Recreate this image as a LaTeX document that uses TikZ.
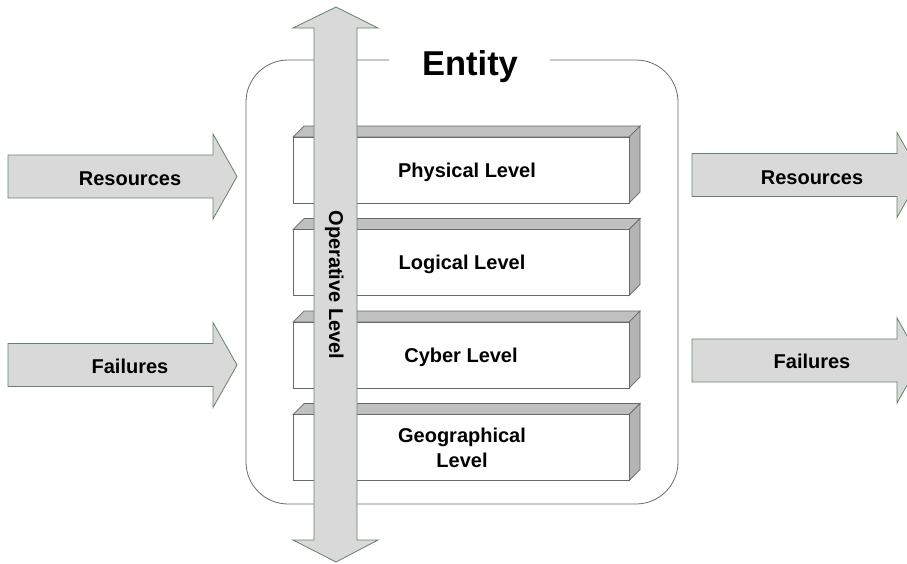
\documentclass[tikz,border=0pt]{standalone}
\usepackage{fontspec}
\setmainfont{Liberation Sans}
\definecolor{arrowfill}{RGB}{217,217,217}
\definecolor{arrowline}{RGB}{100,130,105}
\definecolor{topface}{RGB}{192,192,192}
\definecolor{sideface}{RGB}{180,180,180}
\definecolor{boxline}{RGB}{105,105,105}
\begin{document}
\begin{tikzpicture}[x=1pt,y=-1pt,
    blockarrow/.style={draw=arrowline,fill=arrowfill,line width=0.8pt},
    face/.style={draw=boxline,line width=0.7pt},
    lbl/.style={font=\fontsize{20}{25}\selectfont\bfseries,anchor=base,inner sep=0pt}]
  \useasboundingbox (0,0) rectangle (907,563);
  % entity frame
  \draw[boxline,line width=0.8pt,rounded corners=42]
    (389,60) -- (246,60) -- (246,504) -- (678,504) -- (678,60) -- (550,60);
  \node[lbl,font=\fontsize{34.5}{40}\selectfont\bfseries] (entity) at (470,75) {Entity};
  % levels
  \foreach \t in {137,229.5,322,414.5} {
    \draw[face,fill=topface] (293,\t) -- (304,\t-11) -- (640,\t-11) -- (629,\t) -- cycle;
    \draw[face,fill=sideface] (629,\t) -- (640,\t-11) -- (640,\t+55) -- (629,\t+66) -- cycle;
    \draw[face,fill=white] (293,\t) rectangle (629,\t+66);
  }
  \node[lbl] (physical) at (467,177) {Physical Level};
  \node[lbl] (logical) at (462,269) {Logical Level};
  \node[lbl] (cyber) at (461,362) {Cyber Level};
  \node[lbl,anchor=center,align=center] (geo) at (462,448) {Geographical\\Level};
  % operative level
  \draw[blockarrow] (336,7) -- (378,28) -- (357,28) -- (357,540) -- (378,540) -- (336,562)
    -- (293,540) -- (314,540) -- (314,28) -- (293,28) -- cycle;
  \node[lbl,rotate=-90] (operative) at (329,285) {Operative Level};
  % inputs and outputs
  \foreach \x/\y in {8/176.5, 8/365, 692/175, 692/360.5}
    \draw[blockarrow] (\x,\y-21.5) -- ++(205,0) -- ++(0,-21) -- ++(24,42.5)
      -- ++(-24,42.5) -- ++(0,-21) -- ++(-205,0) -- cycle;
  \node[lbl] (resin) at (130,185) {Resources};
  \node[lbl] (failin) at (130,373) {Failures};
  \node[lbl] (resout) at (812,184) {Resources};
  \node[lbl] (failout) at (812,368) {Failures};
\end{tikzpicture}
\end{document}
